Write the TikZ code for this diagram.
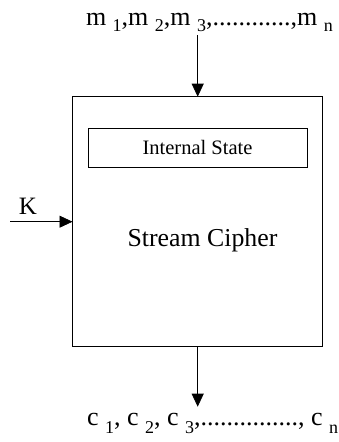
\documentclass[tikz,border=0pt]{standalone}
\usepackage{fontspec}
\setmainfont{Liberation Serif}
\usetikzlibrary{arrows.meta}
\newcommand\mysubA[1]{\raisebox{-6.7pt}{\fontsize{18}{18}\selectfont #1}}
\newcommand\mysubB[1]{\raisebox{-8pt}{\fontsize{18}{18}\selectfont #1}}
\begin{document}
\begin{tikzpicture}[x=1pt,y=-1pt,
  boxstyle/.style={draw, line width=0.8pt, inner sep=0pt, outer sep=0pt},
  txt/.style={inner sep=0pt, outer sep=0pt},
  arr/.style={line width=0.8pt, -{Triangle[length=13pt,width=12pt]}}]
\useasboundingbox (0,0) rectangle (338,442);
\node[boxstyle, minimum width=249.8pt, minimum height=249.6pt] (cipher) at (197.4,221.5) {};
\node[boxstyle, minimum width=219pt, minimum height=38.7pt, font=\fontsize{20.5}{22}\selectfont] (state) at (197.5,147.7) {Internal State};
\node[txt, anchor=base, font=\fontsize{25.8}{28}\selectfont] (label) at (202.5,246) {Stream Cipher};
\node[txt, anchor=base, font=\fontsize{25}{27}\selectfont] (k) at (28,214) {K};
\coordinate (kstart) at (10,221.7);
\node[txt, anchor=base west, font=\fontsize{26}{28}\selectfont] (msg) at (86,25) {m \mysubA{1},m \mysubA{2},m \mysubA{3},............,m \mysubA{n}};
\node[txt, anchor=base west, font=\fontsize{26}{28}\selectfont] (ct) at (87,425) {c \mysubB{1}, c \mysubB{2}, c \mysubB{3},..............., c \mysubB{n}};
\coordinate (mend) at (197.7,35);
\coordinate (cend) at (197.7,406.7);
\draw[arr] (mend) -- (cipher.north -| mend);
\draw[arr] (kstart) -- (kstart -| cipher.west);
\draw[arr] (cipher.south -| cend) -- (cend);
\end{tikzpicture}
\end{document}
